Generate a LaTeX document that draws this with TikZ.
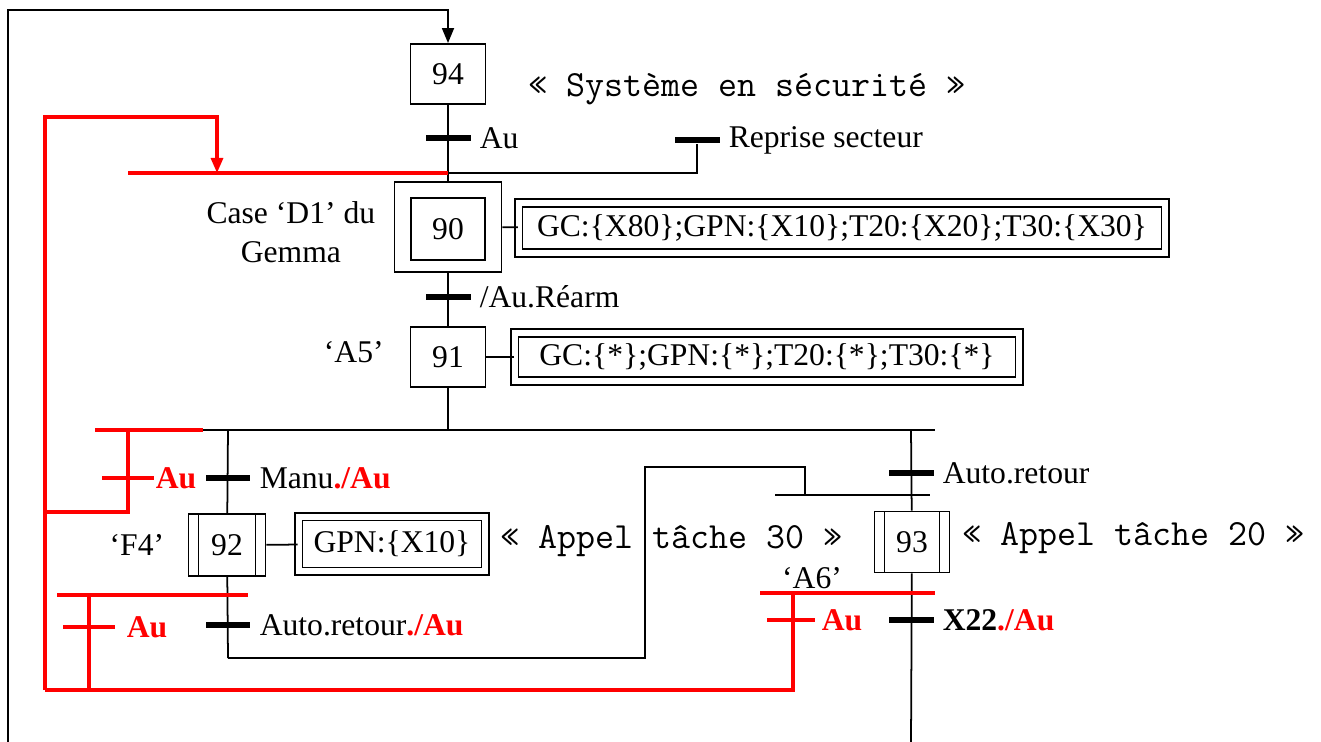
\documentclass[tikz,border=0pt]{standalone}
\usepackage{fontspec}
\setmainfont{Liberation Serif}
\usetikzlibrary{positioning,arrows.meta}

\begin{document}
\begin{tikzpicture}[
  x=0.02cm, y=-0.02cm,
  font=\fontsize{18}{22}\selectfont,
  line width=1pt,
  stepbox/.style={draw, line width=1.1pt, inner sep=0pt,
                  minimum width=1.5cm, minimum height=1.2cm},
  taskbox/.style={stepbox, minimum width=1.54cm, minimum height=1.24cm,
    path picture={\draw ([xshift=2mm]path picture bounding box.north west) -- ([xshift=2mm]path picture bounding box.south west)
                        ([xshift=-2mm]path picture bounding box.north east) -- ([xshift=-2mm]path picture bounding box.south east);}},
  actbox/.style={draw, double, double distance=1.2mm, line width=0.9pt, inner sep=0pt,
                 minimum height=1cm},
  trans/.style={fill=black, inner sep=0pt, minimum width=0.9cm, minimum height=0.13cm},
  rtrans/.style={fill=red, inner sep=0pt, minimum width=1.04cm, minimum height=0.07cm},
  rline/.style={red, line width=1.8pt},
  arr/.style={-{Triangle[length=3mm, width=2.4mm]}},
  lab/.style={inner sep=0pt},
  cmt/.style={font=\fontsize{21}{24}\selectfont\ttfamily, inner sep=0pt, anchor=west},
  ru/.style={text=red, font=\fontsize{18}{22}\selectfont\bfseries, inner sep=0pt}
]
\useasboundingbox (0,0) rectangle (1321,742);
% ----- main column -----
\node[stepbox] (s94) at (448,74) {94};
\node[cmt] (c94) at (528,89) {« Système en sécurité »};
\node[trans] (t1) at (448,138) {};
\node[lab, right=1.5mm of t1] {Au};
\node[trans] (t2) at (697,140) {};
\node[lab, right=1.5mm of t2] {Reprise secteur};
\coordinate (j1) at (448,173);
\draw (t2) |- (j1);

\node[stepbox, minimum width=2.14cm, minimum height=1.8cm] (s90o) at (448,227) {};
\node[stepbox, minimum width=1.48cm, minimum height=1.24cm] (s90) at (448,229) {90};
\node[lab, align=center, left=3.5mm of s90o, yshift=-1mm] {Case ‘D1’ du\\Gemma};
\node[actbox, minimum width=12.94cm] (a90) at (842,228)
  {GC:\{X80\};GPN:\{X10\};T20:\{X20\};T30:\{X30\}};
\draw (s90o) -- (a90);
\draw (s94) -- (s90o);

\node[trans] (t3) at (448,297) {};
\node[lab, right=1.5mm of t3] {/Au.Réarm};
\node[stepbox] (s91) at (448,357) {91};
\node[lab, left=5mm of s91, yshift=1mm] {‘A5’};
\node[actbox, minimum width=10.1cm, minimum height=0.96cm] (a91) at (767,357)
  {GC:\{*\};GPN:\{*\};T20:\{*\};T30:\{*\}};
\draw (s90o) -- (s91);
\draw (s91) -- (a91);
% ----- divergence -----
\coordinate (d91) at (448,430);
\coordinate (dl) at (203,430);
\coordinate (dr) at (935,430);
\draw (s91) -- (d91);
\draw (dl) -- (dr);
% ----- left branch (92) -----
\coordinate (bl) at (228,430);
\node[taskbox] (s92) at (227,545) {92};
\node[lab, left=4.5mm of s92] {‘F4’};
\node[trans] (t4) at (228,478) {};
\node[lab, right=1.5mm of t4] {Manu\textcolor{red}{\textbf{./Au}}};
\node[actbox, minimum width=3.74cm, minimum height=1.09cm] (a92) at (392,544) {GPN:\{X10\}};
\node[cmt] (c92) at (500,541) {« Appel tâche 30 »};
\draw (bl) -- (s92);
\draw (s92) -- (a92);
\coordinate (b92) at (228,658);
\node[trans] (t5) at (228,625) {};
\node[lab, right=1.5mm of t5] {Auto.retour\textcolor{red}{\textbf{./Au}}};
\draw (s92) -- (b92);
\coordinate (up) at (645,467);
\coordinate (c93) at (805,495);
\draw (b92) -| (up) -| (c93);
\coordinate (cl) at (775,495);
\coordinate (cr) at (930,495);
\draw (cl) -- (cr);
% ----- right branch (93) -----
\coordinate (br) at (911,430);
\node[taskbox, minimum width=1.5cm, minimum height=1.22cm] (s93) at (912,542) {93};
\node[trans] (t6) at (911,473) {};
\node[lab, right=1.5mm of t6] {Auto.retour};
\node[cmt] (c93t) at (962,538) {« Appel tâche 20 »};
\node[lab] (a6) at (812,578) {‘A6’};
\draw (br) -- (s93);
\coordinate (e93) at (911,742);
\node[trans] (t7) at (911,620) {};
\node[lab, right=1.5mm of t7] {\textbf{X22}\textcolor{red}{\textbf{./Au}}};
\draw (s93) -- (e93);
% ----- red emergency stops -----
\coordinate (r1) at (128,173);
\draw[rline] (r1) -- (j1);
\coordinate (rdl) at (95,430);
\draw[rline] (rdl) -- (dl);
\coordinate (rc1) at (128,430);
\coordinate (rk) at (45,512);
\node[rtrans] (tr1) at (128,478) {};
\node[ru, right=0pt of tr1] {Au};
\draw[rline] (rc1) |- (rk);
\coordinate (rbot) at (45,690);
\coordinate (rtop) at (217,117);
\coordinate (rin) at (217,173);
\draw[rline, arr] (rbot) |- (rtop) -- (rin);
\coordinate (rcl) at (57,595);
\coordinate (rcr) at (248,595);
\coordinate (rv) at (89,595);
\coordinate (rv2) at (89,690);
\draw[rline] (rcl) -- (rcr);
\draw[rline] (rv) -- (rv2);
\node[rtrans] (tr2) at (89,627) {};
\node[ru, right=2mm of tr2] {Au};
\coordinate (rA6) at (793,593);
\coordinate (rl6) at (760,593);
\coordinate (rr6) at (935,593);
\draw[rline] (rbot) -| (rA6);
\draw[rline] (rl6) -- (rr6);
\node[rtrans, minimum width=0.96cm] (tr3) at (791,620) {};
\node[ru, right=1mm of tr3] {Au};
% ----- loop back to 94 -----
\coordinate (lb) at (8,742);
\coordinate (ltop) at (448,10);
\draw[arr] (lb) |- (ltop) -- (s94);
\end{tikzpicture}
\end{document}
